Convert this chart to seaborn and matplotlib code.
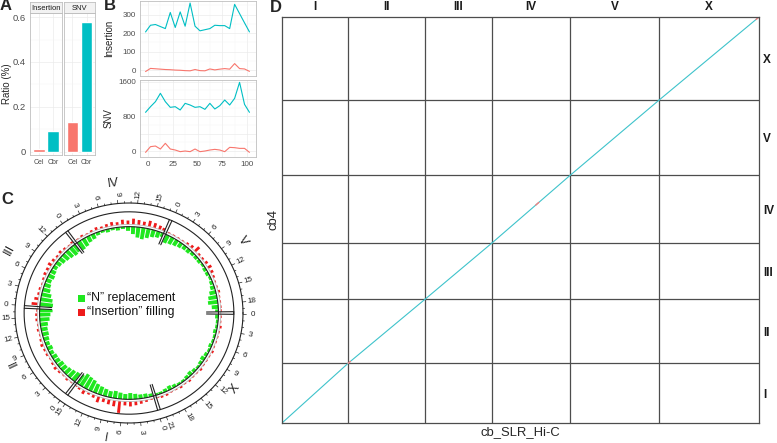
import numpy as np
import pandas as pd
import matplotlib
matplotlib.use("Agg")
import matplotlib.pyplot as plt
from matplotlib.patches import Polygon, Rectangle
import seaborn as sns

sns.set_style("white")
plt.rcParams["font.family"] = ["Liberation Sans", "DejaVu Sans"]

W, H = 777, 443
RED, CYAN = "#F8766D", "#00BFC4"

# ── Panel A: ratio of variants ─────────────────────────────────
A_FACETS = ["Insertion", "SNV"]
A_SPECIES = ["Cel", "Cbr"]
A_INSERTION = [0.012, 0.092]
A_SNV = [0.133, 0.578]

# ── Panel B: counts along the chromosome (percent position) ─────
B_X = [-2.5, 2.5, 7.5, 12.5, 17.5, 22.5, 27.5, 32.5, 37.5, 42.5, 47.5,
       52.5, 57.5, 62.5, 67.5, 72.5, 77.5, 82.5, 87.5, 92.5, 97.5, 102.5]
B_INS_CBR = [206, 242, 246, 235, 224, 311, 230, 314, 237, 362, 237,
             212, 218, 224, 242, 240, 240, 224, 355, 305, 255, 206]
B_INS_CEL = [-8, 9, 7, 5, 3, 2, 0, -1, -3, -4, 3,
             -3, -4, 6, 1, 5, 8, 5, 35, 8, 6, -7]
B_SNV_CBR = [891, 1021, 1137, 1329, 1137, 1006, 1021, 945, 1098, 1060, 1006,
             1021, 960, 1098, 968, 1044, 1175, 1060, 1213, 1582, 1075, 891]
B_SNV_CEL = [-31, 100, 115, 46, 177, 46, 23, -15, 0, -15, 46,
             -15, 0, 23, 38, 23, -15, 84, 77, 61, 61, -31]

# ── Panel C: circos tracks (1 Mb bins, bar length in px) ────────
CHROMS = ["I", "II", "III", "IV", "V", "X"]
CB4_MB = [15.46, 16.63, 14.58, 17.49, 19.50, 21.54]
C_ORDER = ["IV", "V", "X", "I", "II", "III"]   # clockwise from top
GREEN_N = {
    "I":   [3, 4, 4, 5, 6, 5, 6, 7, 6, 7, 8, 9, 11, 12, 13, 10],
    "II":  [9, 8, 7, 6, 6, 5, 5, 4, 5, 4, 5, 6, 6, 7, 9, 10, 12],
    "III": [12, 11, 9, 7, 6, 5, 6, 5, 4, 5, 6, 7, 8, 9, 8],
    "IV":  [9, 8, 6, 5, 3, 2, 3, 2, 3, 2, 4, 7, 10, 11, 9, 7, 6, 4],
    "V":   [8, 7, 6, 5, 4, 4, 3, 3, 3, 2, 3, 3, 2, 3, 4, 6, 8, 9, 6, 3],
    "X":   [3, 2, 2, 3, 2, 2, 3, 2, 3, 4, 3, 2, 3, 4, 3, 2, 2, 3, 4, 3, 2, 2],
}
RED_INS = {
    "I":   [1, 2, 3, 4, 5, 4, 12, 6, 5, 4, 6, 3, 2, 4, 2, 1],
    "II":  [1, 2, 1, 2, 3, 2, 1, 2, 2, 3, 2, 1, 2, 1, 2, 2, 1],
    "III": [6, 4, 2, 2, 1, 2, 3, 3, 4, 3, 2, 3, 2, 1, 2],
    "IV":  [1, 2, 1, 2, 3, 2, 3, 4, 3, 5, 4, 6, 5, 4, 6, 5, 4, 3],
    "V":   [1, 1, 1, 1, 2, 3, 6, 2, 2, 3, 4, 3, 2, 1, 1, 2, 1, 1, 1, 1],
    "X":   [1, 1, 2, 1, 1, 1, 1, 2, 1, 1, 1, 2, 1, 1, 2, 1, 2, 1, 1, 2, 2, 1],
}

# ── Panel D: dot plot chromosome sizes ─────────────────────────
HIC_MB = [15.0, 17.5, 15.2, 17.7, 20.2, 22.7]
D_RED_MARKS = [("IV", 0.56, 0.60), ("X", 0.97, 1.0), ("II", 0.0, 0.03)]


def box(x0, y0, x1, y1):
    return [x0 / W, 1 - y1 / H, (x1 - x0) / W, (y1 - y0) / H]


def ftext(x, y, s, **kw):
    fig.text(x / W, 1 - y / H, s, **kw)


def style_gg(ax, labelsize=5.8):
    ax.set_facecolor("white")
    for s in ax.spines.values():
        s.set_color("#BFBFBF")
        s.set_linewidth(0.6)
    ax.grid(True, which="major", color="#EBEBEB", lw=0.5)
    ax.grid(True, which="minor", color="#F4F4F4", lw=0.35)
    ax.set_axisbelow(True)
    ax.tick_params(which="major", length=2, width=0.5, color="#333333",
                   labelsize=labelsize, labelcolor="#4D4D4D", pad=1)
    ax.tick_params(which="minor", length=0)
    ax.set_xlabel("")
    ax.set_ylabel("")


fig = plt.figure(figsize=(W / 100, H / 100), dpi=100)

# ── Panel A ────────────────────────────────────────────────────
for i, (facet, vals) in enumerate(zip(A_FACETS, [A_INSERTION, A_SNV])):
    x0, x1 = [(30, 62), (64, 95)][i]
    ax = fig.add_axes(box(x0, 13, x1, 155))
    df = pd.DataFrame({"species": A_SPECIES, "ratio": vals})
    sns.barplot(data=df, x="species", y="ratio", hue="species",
                palette={"Cel": RED, "Cbr": CYAN}, order=A_SPECIES,
                width=0.8, legend=False, saturation=1, ax=ax)
    ax.set_xlim(-0.6, 1.6)
    ax.set_ylim(-0.014, 0.618)
    ax.set_yticks([0, 0.2, 0.4, 0.6])
    ax.set_yticks([0.1, 0.3, 0.5], minor=True)
    style_gg(ax, labelsize=6.8)
    ax.tick_params(axis="x", labelsize=5)
    if i == 0:
        ax.set_yticklabels(["0", "0.2", "0.4", "0.6"])
    else:
        ax.tick_params(axis="y", length=0, labelleft=False)

    sax = fig.add_axes(box(x0, 2, x1, 13))
    sax.set_facecolor("#F2F2F2")
    sax.set_xticks([])
    sax.set_yticks([])
    for s in sax.spines.values():
        s.set_color("#BFBFBF")
        s.set_linewidth(0.6)
    sax.text(0.5, 0.45, facet, ha="center", va="center", fontsize=5.5,
             color="#1A1A1A", transform=sax.transAxes)

ftext(7.5, 84, "Ratio (%)", rotation=90, ha="center", va="center", fontsize=7)

# ── Panel B ────────────────────────────────────────────────────
b_panels = [
    ("Insertion", B_INS_CBR, B_INS_CEL, (1, 76), (-32, 373),
     [0, 100, 200, 300], ["0", "100", "200", "300"], [50, 150, 250, 350]),
    ("SNV", B_SNV_CBR, B_SNV_CEL, (80, 157), (-138, 1636),
     [0, 400, 800, 1200, 1600], ["0", "", "800", "", "1600"],
     [200, 600, 1000, 1400]),
]
for j, (name, cbr, cel, (y0, y1), ylim, yt, ytl, ymin) in enumerate(b_panels):
    ax = fig.add_axes(box(140, y0, 256, y1))
    df = pd.DataFrame({
        "x": B_X * 2,
        "value": cbr + cel,
        "species": ["Cbr"] * len(B_X) + ["Cel"] * len(B_X),
    })
    sns.lineplot(data=df, x="x", y="value", hue="species",
                 palette={"Cel": RED, "Cbr": CYAN}, legend=False,
                 lw=0.8, ax=ax)
    ax.set_xlim(-8.1, 109.1)
    ax.set_ylim(*ylim)
    ax.set_xticks([0, 25, 50, 75, 100])
    ax.set_xticks([12.5, 37.5, 62.5, 87.5], minor=True)
    ax.set_yticks(yt)
    ax.set_yticklabels(ytl)
    ax.set_yticks(ymin, minor=True)
    style_gg(ax)
    if j == 0:
        ax.tick_params(axis="x", length=0, labelbottom=False)
    ftext(109, (y0 + y1) / 2, name, rotation=90, ha="center", va="center",
          fontsize=7)

# ── Panel C: circos ────────────────────────────────────────────
cx, cy, rx, ry = 129, 313, 114, 110
ax_c = fig.add_axes(box(0, 170, 262, 443))
ax_c.set_xlim((0 - cx) / rx, (262 - cx) / rx)
ax_c.set_ylim((cy - 443) / ry, (cy - 170) / ry)
ax_c.axis("off")

size = dict(zip(CHROMS, CB4_MB))
gap = 0.45
k = 360 / (sum(CB4_MB) + gap * len(CHROMS))
theta0 = k * (size["IV"] + gap + size["V"] + gap / 2)
start = {}
off = 0.0
for c in C_ORDER:
    start[c] = off
    off += size[c] + gap


def ang(c, pos):
    return np.radians(theta0 - k * (start[c] + pos))


def wedge(t0, t1, r0, r1, color):
    ts = np.linspace(t0, t1, 4)
    xs = np.concatenate([r1 * np.cos(ts), r0 * np.cos(ts[::-1])])
    ys = np.concatenate([r1 * np.sin(ts), r0 * np.sin(ts[::-1])])
    ax_c.add_patch(Polygon(np.column_stack([xs, ys]), closed=True,
                           facecolor=color, edgecolor="none", clip_on=False))


circ = np.linspace(0, 2 * np.pi, 500)
for r, col, lw in [(1.0, "#222222", 0.8), (0.92, "#222222", 0.8),
                   (0.785, "#222222", 0.8), (0.805, "#BBBBBB", 0.6)]:
    ax_c.plot(r * np.cos(circ), r * np.sin(circ), color=col, lw=lw,
              clip_on=False)

G_BASE, R_BASE = 0.785, 0.805
for c in C_ORDER:
    L = size[c]
    for jb, (g, rd) in enumerate(zip(GREEN_N[c], RED_INS[c])):
        lo, hi = jb, min(jb + 1, L)
        mid = (lo + hi) / 2
        hw = min(0.4, (hi - lo) / 2)
        wedge(ang(c, mid - hw), ang(c, mid + hw), G_BASE - g / 105, G_BASE,
              "#1FE81F")
        hw2 = min(0.25, (hi - lo) / 2)
        wedge(ang(c, mid - hw2), ang(c, mid + hw2), R_BASE, R_BASE + rd / 112,
              "#EE1B1B")
    # sector edges
    for pos in (0, L):
        t = ang(c, pos)
        ax_c.plot([0.68 * np.cos(t), 0.92 * np.cos(t)],
                  [0.68 * np.sin(t), 0.92 * np.sin(t)],
                  color="#222222", lw=0.8, clip_on=False)
    # ticks and labels on the outer circle
    for mb in range(0, int(L) + 1):
        t = ang(c, mb)
        major = mb % 3 == 0
        r2 = 1.03 if major else 1.015
        ax_c.plot([np.cos(t), r2 * np.cos(t)], [np.sin(t), r2 * np.sin(t)],
                  color="#222222", lw=0.5, clip_on=False)
        if major:
            deg = np.degrees(t)
            rot = deg if np.cos(t) >= 0 else deg + 180
            ax_c.text(1.085 * np.cos(t), 1.085 * np.sin(t), str(mb),
                      rotation=rot, rotation_mode="anchor", ha="center",
                      va="center", fontsize=5.8, color="#222222")
    tm = ang(c, L / 2)
    rot = np.degrees(tm) - 90
    if np.cos(np.radians(rot)) < 0:
        rot += 180
    rr = 1.19 if np.sin(tm) > 0 else 1.155
    ax_c.text(rr * np.cos(tm), rr * np.sin(tm), c, rotation=rot,
              rotation_mode="anchor", ha="center", va="center", fontsize=9,
              color="#222222")

for yy, col, lab in [(298, "#1FE81F", "\u201cN\u201d replacement"),
                     (312, "#EE1B1B", "\u201cInsertion\u201d filling")]:
    ax_c.add_patch(Rectangle(((78 - cx) / rx, (cy - yy - 3.5) / ry),
                             7 / rx, 7 / ry, facecolor=col, edgecolor="none"))
    ax_c.text((87 - cx) / rx, (cy - yy) / ry, lab, ha="left", va="center",
              fontsize=8.8, color="#111111")

# ── Panel D: dot plot ──────────────────────────────────────────
ax_d = fig.add_axes(box(282, 17, 759, 423))
cumx = np.concatenate([[0], np.cumsum(HIC_MB)])
cumy = np.concatenate([[0], np.cumsum(CB4_MB)])
ax_d.set_xlim(0, cumx[-1])
ax_d.set_ylim(0, cumy[-1])
ax_d.set_facecolor("white")
for b in cumx[1:-1]:
    ax_d.axvline(b, color="#4D4D4D", lw=0.9)
for b in cumy[1:-1]:
    ax_d.axhline(b, color="#4D4D4D", lw=0.9)
for i in range(len(CHROMS)):
    ax_d.plot([cumx[i], cumx[i + 1]], [cumy[i], cumy[i + 1]],
              color="#3EC3CB", lw=0.8)
for c, f0, f1 in D_RED_MARKS:
    i = CHROMS.index(c)
    xs = [cumx[i] + f0 * HIC_MB[i], cumx[i] + f1 * HIC_MB[i]]
    ys = [cumy[i] + f0 * CB4_MB[i], cumy[i] + f1 * CB4_MB[i]]
    ax_d.plot(xs, ys, color="#F08080", lw=1.0)
for s in ax_d.spines.values():
    s.set_color("#4D4D4D")
    s.set_linewidth(0.9)
ax_d.xaxis.tick_top()
ax_d.set_xticks((cumx[:-1] + cumx[1:]) / 2)
ax_d.set_xticklabels(CHROMS, fontsize=8.5, fontweight="bold")
ax_d.yaxis.tick_right()
ax_d.set_yticks((cumy[:-1] + cumy[1:]) / 2)
ax_d.set_yticklabels(CHROMS, fontsize=8.5, fontweight="bold")
ax_d.tick_params(length=0, pad=3, colors="#1A1A1A")
ax_d.set_xlabel("cb_SLR_Hi-C", fontsize=9.4, labelpad=2)
ax_d.xaxis.set_label_position("bottom")
ax_d.set_ylabel("cb4", fontsize=9.4, labelpad=2)
ax_d.yaxis.set_label_position("left")

# ── Panel letters ──────────────────────────────────────────────
for x, y, s in [(6, 6, "A"), (110, 6, "B"), (7.5, 200, "C"), (276, 7.5, "D")]:
    ftext(x, y, s, ha="center", va="center", fontsize=12, fontweight="bold")

fig.savefig("out.png", dpi=100)
